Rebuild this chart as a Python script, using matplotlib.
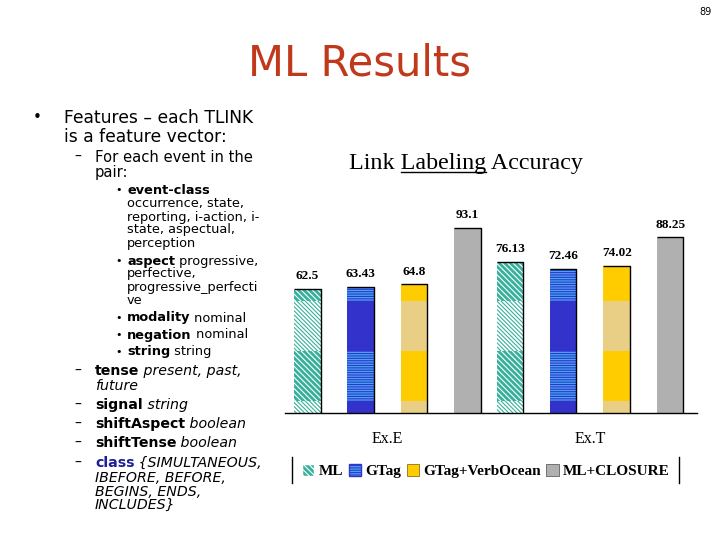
import matplotlib
matplotlib.use("Agg")
import matplotlib.pyplot as plt
from matplotlib.patches import Patch, Rectangle
from matplotlib.lines import Line2D

# chart data
groups = ['Ex.E', 'Ex.T']
systems = ['ML', 'GTag', 'GTag+VerbOcean', 'ML+CLOSURE']
ml = [62.5, 76.13]
gtag = [63.43, 72.46]
gtag_vo = [64.8, 74.02]
closure = [93.1, 88.25]
series = [ml, gtag, gtag_vo, closure]

# the scanned bars show alternating bands of two fill tones
bands = [(6.0, 31.2), (56.3, 81.4)]

TEAL = '#37B09C'
plt.rcParams['hatch.linewidth'] = 0.8

# (base style, band style) for each system
styles = [
    (dict(facecolor='white', edgecolor=TEAL, hatch='\\' * 8),
     dict(facecolor=TEAL, edgecolor='white', hatch='\\' * 6)),
    (dict(facecolor='#3333CC', edgecolor='#3333CC', hatch=None),
     dict(facecolor='#46A5F0', edgecolor='#3035CC', hatch='-' * 7)),
    (dict(facecolor='#E9CF86', edgecolor='#E9CF86', hatch=None),
     dict(facecolor='#FFCC00', edgecolor='#FFCC00', hatch=None)),
    (dict(facecolor='#B0B0B0', edgecolor='#B0B0B0', hatch=None),
     dict(facecolor='#B0B0B0', edgecolor='#B0B0B0', hatch=None)),
]

W, H = 720, 540
fig = plt.figure(figsize=(7.2, 5.4), dpi=100)
r = fig.canvas.get_renderer()


def fx(px):
    return px / W


def fy(py):
    return 1 - py / H


# ---- slide title and page number
fig.text(fx(360), fy(64), 'ML Results', fontsize=30, color='#C0391B',
         ha='center', va='center', family='DejaVu Sans')
fig.text(fx(706), fy(12), '89', fontsize=7, ha='center', va='center',
         family='DejaVu Sans')

# ---- left bullet text
SANS = 'DejaVu Sans'
DEFAULTS = ['', 'normal', 'normal', 'black']


def runs(x, y, parts, size):
    for p in parts:
        p = [p] if isinstance(p, str) else list(p)
        txt, w, st, c = p + DEFAULTS[len(p):]
        t = fig.text(fx(x), fy(y), txt, fontsize=size, fontweight=w,
                     fontstyle=st, color=c, va='center', family=SANS)
        x += t.get_window_extent(r).width


def mark(x, y, s, size):
    fig.text(fx(x), fy(y), s, fontsize=size, ha='center', va='center',
             family=SANS)


mark(37, 118, '•', 11)
runs(64, 118, ['Features – each TLINK'], 12.3)
runs(64, 137, ['is a feature vector:'], 12.3)

mark(78, 157, '–', 10)
runs(95, 157, ['For each event in the'], 10.6)
runs(95, 173, ['pair:'], 10.6)

lvl3 = [
    (190, [('event-class', 'bold')], True),
    (204, ['occurrence, state,'], False),
    (217, ['reporting, i-action, i-'], False),
    (230, ['state, aspectual,'], False),
    (243, ['perception'], False),
    (261, [('aspect', 'bold'), ' progressive,'], True),
    (274, ['perfective,'], False),
    (287, ['progressive_perfecti'], False),
    (300, ['ve'], False),
    (318, [('modality', 'bold'), ' nominal'], True),
    (335, [('negation', 'bold'), ' nominal'], True),
    (352, [('string', 'bold'), ' string'], True),
]
for y, parts, bullet in lvl3:
    if bullet:
        mark(119, y, '•', 8)
    runs(127, y, parts, 9.3)

lvl2 = [
    (371, [('tense', 'bold'), (' present, past,', 'normal', 'italic')], True),
    (386, [('future', 'normal', 'italic')], False),
    (405, [('signal', 'bold'), (' string', 'normal', 'italic')], True),
    (424, [('shiftAspect', 'bold'), (' boolean', 'normal', 'italic')], True),
    (443, [('shiftTense', 'bold'), (' boolean', 'normal', 'italic')], True),
    (463, [('class', 'bold', 'normal', '#1F1F99'),
           (' {SIMULTANEOUS,', 'normal', 'italic')], True),
    (478, [('IBEFORE, BEFORE,', 'normal', 'italic')], False),
    (492, [('BEGINS, ENDS,', 'normal', 'italic')], False),
    (505, [('INCLUDES}', 'normal', 'italic')], False),
]
for y, parts, dash in lvl2:
    if dash:
        mark(78, y, '–', 10)
    runs(95, y, parts, 10.2)

# ---- chart title with underlined word
SERIF = 'Liberation Serif'
title = fig.text(fx(466), fy(169), 'Link Labeling Accuracy', fontsize=17.3,
                 family=SERIF, ha='center', va='baseline')
tb = title.get_window_extent(r)
pre = fig.text(0, 0, 'Link ', fontsize=17.3, family=SERIF)
word = fig.text(0, 0, 'Labeling', fontsize=17.3, family=SERIF)
x0 = tb.x0 + pre.get_window_extent(r).width
x1 = x0 + word.get_window_extent(r).width
pre.remove()
word.remove()
ybase = fy(172) * H
fig.add_artist(Line2D([x0 / W, x1 / W], [ybase / H, ybase / H],
                      color='black', lw=1, transform=fig.transFigure))

# ---- bar chart
ax = fig.add_axes([fx(285), 127 / H, 412 / W, 199 / H])
step = 0.264
width = 0.131
for i, vals in enumerate(series):
    base, band = styles[i]
    xs = [g + (i - 1.5) * step for g in range(len(groups))]
    bars = ax.bar(xs, vals, width, linewidth=0, **base)
    for p in bars:
        h = p.get_height()
        for lo, hi in bands:
            if lo < h:
                ax.add_patch(Rectangle((p.get_x(), lo), p.get_width(),
                                       min(hi, h) - lo, linewidth=0, **band))
        ax.plot([p.get_x(), p.get_x() + p.get_width(), p.get_x() + p.get_width()],
                [h, h, 0], color='black', lw=1, solid_capstyle='butt')
        ax.annotate(f'{h:g}', (p.get_x() + p.get_width() / 2, h),
                    xytext=(0, 9), textcoords='offset points', ha='center',
                    va='center', fontsize=9.5, fontweight='bold', family=SERIF)

ax.set_xlim(-0.506, -0.506 + 412 / 202.5)
ax.set_ylim(0, 100)
ax.set_xticks(range(len(groups)), groups, family=SERIF, fontsize=11.5)
ax.tick_params(axis='x', length=0, pad=13)
ax.set_yticks([])
for s in ['left', 'right', 'top']:
    ax.spines[s].set_visible(False)
ax.spines['bottom'].set_linewidth(1)

handles = [Patch(**styles[0][1]), Patch(**styles[1][1]),
           Patch(facecolor='#FFCC00', edgecolor='#8A7020', lw=0.6),
           Patch(facecolor='#B0B0B0', edgecolor='#606060', lw=0.6)]
leg = ax.legend(handles, systems, ncol=4, loc='center',
                bbox_to_anchor=(fx(486), fy(471)), bbox_transform=fig.transFigure,
                frameon=False, prop=dict(family=SERIF, weight='bold', size=11),
                handlelength=0.8, handleheight=0.8, handletextpad=0.3,
                columnspacing=0.35, borderaxespad=0)
lb = leg.get_window_extent(r)
for xe in (lb.x0 - 4, lb.x1 + 3):
    fig.add_artist(Line2D([xe / W, xe / W], [fy(483), fy(457)], color='black',
                          lw=1, transform=fig.transFigure))

fig.savefig('out.png', dpi=100)
